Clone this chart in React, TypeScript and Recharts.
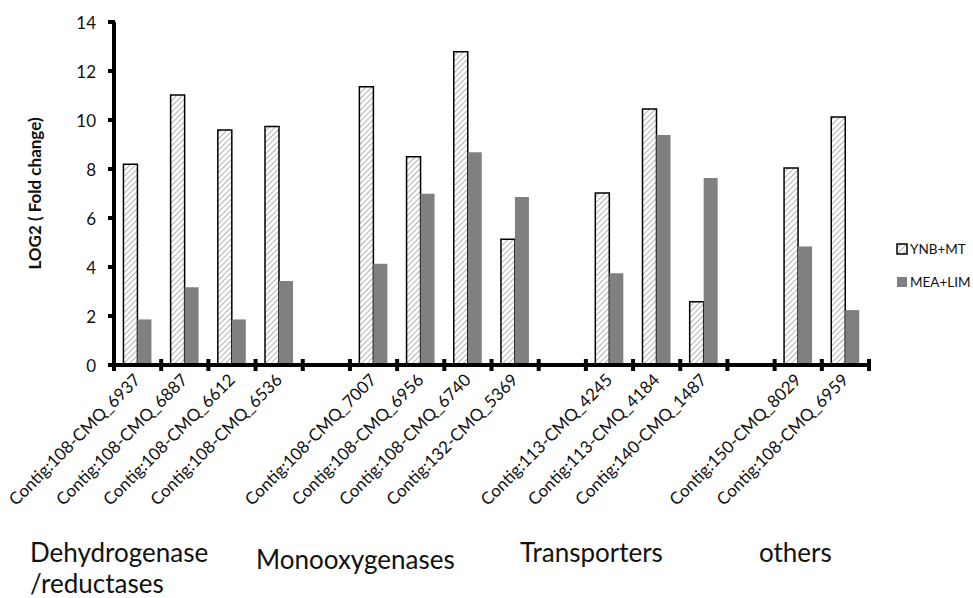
import React from 'react';
import { BarChart, Bar, XAxis, YAxis, Legend } from 'recharts';

const categories = [
  'Contig:108-CMQ_6937', 'Contig:108-CMQ_6887', 'Contig:108-CMQ_6612', 'Contig:108-CMQ_6536', '',
  'Contig:108-CMQ_7007', 'Contig:108-CMQ_6956', 'Contig:108-CMQ_6740', 'Contig:132-CMQ_5369', '',
  'Contig:113-CMQ_4245', 'Contig:113-CMQ_4184', 'Contig:140-CMQ_1487', '',
  'Contig:150-CMQ_8029', 'Contig:108-CMQ_6959',
];
const ynbMt = [8.19, 11.02, 9.59, 9.73, null, 11.36, 8.5, 12.79, 5.13, null, 7.02, 10.45, 2.58, null, 8.04, 10.12];
const meaLim = [1.86, 3.17, 1.86, 3.43, null, 4.13, 6.99, 8.68, 6.86, null, 3.74, 9.39, 7.63, null, 4.84, 2.24];
const yTicks = [0, 2, 4, 6, 8, 10, 12, 14];
const seriesNames = ['YNB+MT', 'MEA+LIM'];
const groupLabels = [
  { lines: ['Dehydrogenase', '/reductases'], x: 30, y: 562 },
  { lines: ['Monooxygenases'], x: 256, y: 569 },
  { lines: ['Transporters'], x: 520, y: 562 },
  { lines: ['others'], x: 759, y: 562 },
];

const FONT = 'Lato, "Liberation Sans", sans-serif';

const XTick = (props: any) => {
  const { x, y, payload, index } = props;
  const half = payload && typeof payload.offset === 'number' && payload.offset > 0 ? payload.offset : 23.6;
  const label = categories[payload.value] ?? '';
  const last = index === categories.length - 1;
  return (
    <g>
      <rect x={x - half - 1} y={y - 2} width={2 * half + 2} height={4} fill="#000" />
      <rect x={x - half - 2} y={y - 6} width={4} height={12} fill="#000" />
      {last && <rect x={x + half - 2} y={y - 6} width={4} height={12} fill="#000" />}
      {label && (
        <text x={x + 4} y={y + 16} transform={`rotate(-45, ${x + 4}, ${y + 16})`} textAnchor="end" fontSize={17} fontFamily={FONT} fill="#111">
          {label}
        </text>
      )}
    </g>
  );
};

const YTick = (props: any) => {
  const { x, y, payload } = props;
  return (
    <g>
      <rect x={x - 6} y={y - 2} width={7} height={4} fill="#000" />
      <text x={x - 18} y={y} textAnchor="end" dominantBaseline="central" fontSize={17} fontFamily={FONT} fill="#111">
        {payload.value}
      </text>
    </g>
  );
};

const YLabel = (props: any) => {
  const vb = props.viewBox || { x: 0, y: 22, width: 114, height: 343 };
  const cx = vb.x + 34;
  const cy = vb.y + vb.height / 2;
  return (
    <text x={cx} y={cy} transform={`rotate(-90, ${cx}, ${cy})`} textAnchor="middle" dominantBaseline="central" fontSize={17} fontWeight="bold" fontFamily={FONT} fill="#111">
      LOG2 ( Fold change)
    </text>
  );
};

const renderLegend = () => (
  <div style={{ fontFamily: FONT, fontSize: 13.5, color: '#111', lineHeight: '20px', whiteSpace: 'nowrap' }}>
    <div style={{ display: 'flex', alignItems: 'center', height: 20 }}>
      <svg width={12} height={12} style={{ display: 'block' }}>
        <rect x={1} y={1} width={10} height={10} fill="url(#hatch)" stroke="#000" strokeWidth={1.5} />
      </svg>
      <span style={{ marginLeft: 2 }}>{seriesNames[0]}</span>
    </div>
    <div style={{ display: 'flex', alignItems: 'center', height: 20, marginTop: 13 }}>
      <svg width={12} height={12} style={{ display: 'block' }}>
        <rect x={1} y={1} width={10} height={10} fill="#808080" />
      </svg>
      <span style={{ marginLeft: 2 }}>{seriesNames[1]}</span>
    </div>
  </div>
);

export default function App() {
  const data = categories.map((c, i) => ({ id: i, label: c, ynb: ynbMt[i], mea: meaLim[i] }));
  return (
    <div style={{ position: 'absolute', left: 0, top: 0, width: 973, height: 598, background: '#fff', overflow: 'hidden' }}>
      <svg width={0} height={0} style={{ position: 'absolute' }}>
        <defs>
          <pattern id="hatch" patternUnits="userSpaceOnUse" width={4} height={4} patternTransform="rotate(45)">
            <rect width={4} height={4} fill="#fff" />
            <line x1={0} y1={0} x2={0} y2={4} stroke="#8a8a8a" strokeWidth={1.3} />
          </pattern>
        </defs>
      </svg>
      <svg width={973} height={598} style={{ position: 'absolute', left: 0, top: 0, pointerEvents: 'none' }}>
        {groupLabels.map((g, i) => (
          <text key={i} x={g.x} y={g.y} fontSize={26} fontFamily={FONT} fill="#111">
            {g.lines.map((ln, j) => (
              <tspan key={j} x={g.x} y={g.y + j * 31}>{ln}</tspan>
            ))}
          </text>
        ))}
      </svg>
      <div style={{ position: 'absolute', left: 0, top: 0 }}>
        <BarChart width={973} height={598} data={data} margin={{ top: 22, right: 104, bottom: 193, left: 0 }} barCategoryGap="20%" barGap={0}>
          <Bar dataKey="ynb" name={seriesNames[0]} fill="url(#hatch)" stroke="#000" strokeWidth={1.5} isAnimationActive={false} />
          <Bar dataKey="mea" name={seriesNames[1]} fill="#808080" isAnimationActive={false} />
          <XAxis dataKey="id" type="category" height={40} interval={0} axisLine={{ stroke: '#000', strokeWidth: 4 }} tickLine={false} tickSize={0} tickMargin={0} tick={<XTick />} />
          <YAxis width={114} domain={[0, 14]} ticks={yTicks} interval={0} axisLine={{ stroke: '#000', strokeWidth: 4 }} tickLine={false} tickSize={0} tickMargin={0} tick={<YTick />} label={<YLabel />} />
          <Legend layout="vertical" align="center" verticalAlign="middle" content={renderLegend} wrapperStyle={{ position: 'absolute', left: 896, top: 239, width: 77 }} />
        </BarChart>
      </div>
    </div>
  );
}
